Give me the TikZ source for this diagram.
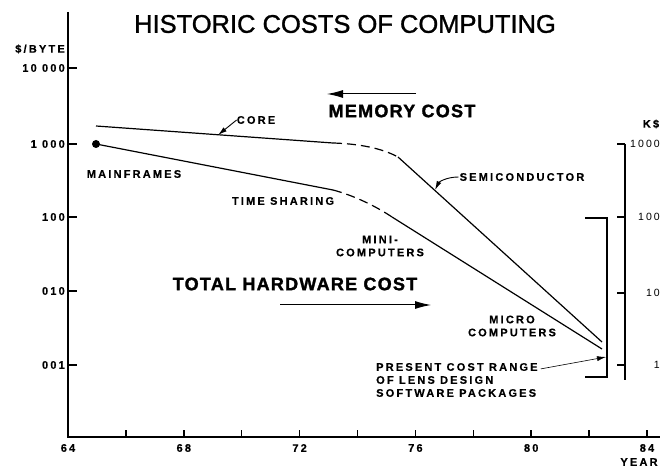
\documentclass[tikz,border=0pt]{standalone}
\usepackage{fontspec}
\setmainfont{Liberation Sans}
\newfontfamily\titlefont{Liberation Sans}[FakeBold=1.2]
\newfontfamily\lblfont{Liberation Sans}[LetterSpace=20, BoldFeatures={FakeBold=0.4}]
\newfontfamily\headfont{Liberation Sans}[LetterSpace=7, BoldFeatures={FakeBold=1.6}]
\usetikzlibrary{arrows.meta}
\tikzset{
  lbl/.style={font=\lblfont\bfseries\fontsize{11}{13}\selectfont, inner sep=0pt},
  klbl/.style={font=\lblfont\fontsize{10.5}{13}\selectfont, inner sep=0pt},
  head/.style={font=\headfont\bfseries\fontsize{18}{22}\selectfont, inner sep=0pt},
  axis/.style={line width=1.5pt},
  curve/.style={line width=1.2pt, line join=round},
  brk/.style={curve, dash pattern=on 9pt off 5pt},
  pointer/.style={line width=0.9pt, ->, >={Latex[length=9pt,width=5pt]}},
  bigarrow/.style={line width=1pt, ->, >={Latex[length=16pt,width=8pt]}}
}
\begin{document}
\begin{tikzpicture}[x=1pt,y=-1pt]
\useasboundingbox (0,0) rectangle (665,468);
\node[font=\titlefont\fontsize{25.5}{30}\selectfont, inner sep=0pt] (title) at (345,24) {HISTORIC COSTS OF COMPUTING};

% left axis, $/BYTE
\draw[axis] (68,12) -- (68,437) -- (660,437);
\node[lbl, anchor=east] (unit) at (65,49) {\$/BYTE};
\foreach \v/\y [count=\i] in {10 000/68, 1 000/144, 100/217, 010/291, 001/365}{
  \draw[axis] (68,\y) -- (77,\y);
  \node[lbl, anchor=east] (cost\i) at (65,\y) {\v};
}
\foreach \yr in {66,68,...,84} \draw[axis] ({68+(\yr-64)*28.95},437) -- ++(0,-7);
\foreach \yr in {64,68,...,84} \node[lbl] (yr\yr) at ({68+(\yr-64)*28.95},448) {\yr};
\node[lbl] (year) at (639,462) {YEAR};

% right axis, K$
\draw[axis] (625,144) -- (625,380);
\node[lbl] (kd) at (651,124) {K\$};
\foreach \v/\y in {1000/144, 100/217, 10/293, 1/365}{
  \draw[axis] (617,\y) -- (625,\y);
  \node[klbl, anchor=east] (k\v) at (660,\y) {\v};
}

% memory cost
\draw[curve] (96,126) -- (333,143);
\draw[brk] (333,143) .. controls (365,144) and (385,150) .. (398,157);
\draw[curve] (398,157) -- (602,342);
% total hardware cost
\fill (96,144) circle (4pt);
\draw[curve] (96,144) -- (333,190);
\draw[brk] (333,190) .. controls (352,195) and (374,205) .. (392,217);
\draw[curve] (392,217) -- (602,349);

\node[lbl] (core) at (256,120) {CORE};
\node[lbl] (main) at (134,174) {MAINFRAMES};
\node[lbl] (ts) at (283,201) {TIME SHARING};
\node[lbl, inner sep=1pt] (semi) at (522,177) {SEMICONDUCTOR};
\node[lbl, align=center] (mini) at (380,246) {MINI-\\COMPUTERS};
\node[lbl, align=center] (micro) at (512,326) {MICRO\\COMPUTERS};
\node[lbl, align=left, anchor=west] (pcr) at (376,380) {PRESENT COST RANGE\\OF LENS DESIGN\\SOFTWARE PACKAGES};

\coordinate (coreTip) at (218,135);
\coordinate (semiTip) at (435,190);
\coordinate (pcrTip) at (606,357);
\draw[pointer] (core.west) -- (coreTip);
\draw[pointer] (semi.west) .. controls +(-12,0) and +(4,-8) .. (semiTip);
\draw[pointer, line width=0.6pt] ([xshift=3pt,yshift=-6pt]pcr.north east) -- (pcrTip);

% range bracket
\draw[axis, line width=1.3pt] (585,218) -- (607,218) -- (607,377) -- (585,377);

\node[head] (memory) at (402,111) {MEMORY COST};
\node[head] (total) at (295,284) {TOTAL HARDWARE COST};
\coordinate (memTail) at (416,94);
\coordinate (memTip) at (327,94);
\coordinate (totTail) at (280,305);
\coordinate (totTip) at (431,305);
\draw[bigarrow] (memTail) -- (memTip);
\draw[bigarrow] (totTail) -- (totTip);
\end{tikzpicture}
\end{document}
